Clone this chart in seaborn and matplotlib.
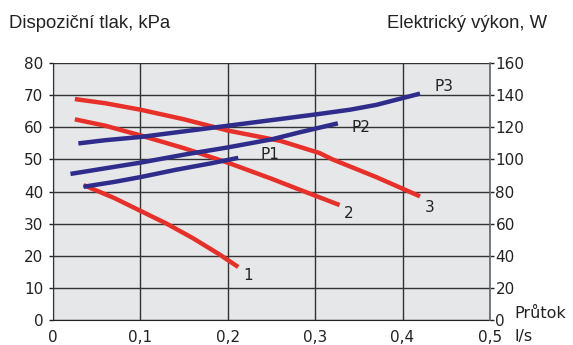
import numpy as np
import pandas as pd
import matplotlib
matplotlib.use('Agg')
import matplotlib.pyplot as plt
import seaborn as sns

# pressure curves (left axis, kPa)
flow_1 = [0.035, 0.07, 0.10, 0.13, 0.16, 0.19, 0.212]
press_1 = [42.0, 38.0, 34.0, 30.0, 25.5, 20.5, 16.5]
flow_2 = [0.025, 0.06, 0.10, 0.15, 0.20, 0.25, 0.283, 0.328]
press_2 = [62.5, 60.5, 57.5, 53.5, 49.0, 44.0, 40.5, 35.8]
flow_3 = [0.025, 0.06, 0.10, 0.15, 0.20, 0.26, 0.305, 0.32, 0.37, 0.42]
press_3 = [68.8, 67.5, 65.5, 62.5, 59.0, 55.8, 52.0, 50.0, 44.5, 38.5]

# power curves (right axis, W)
flow_p1 = [0.035, 0.07, 0.10, 0.14, 0.18, 0.212]
power_p1 = [83.0, 86.0, 89.0, 93.5, 97.5, 101.0]
flow_p2 = [0.02, 0.06, 0.10, 0.15, 0.20, 0.25, 0.283, 0.326]
power_p2 = [91.0, 94.5, 98.0, 103.0, 107.5, 112.5, 117.0, 122.5]
flow_p3 = [0.029, 0.06, 0.10, 0.15, 0.20, 0.25, 0.30, 0.34, 0.37, 0.395, 0.42]
power_p3 = [110.0, 112.0, 114.0, 117.5, 121.0, 124.5, 128.0, 131.0, 134.0, 137.5, 141.0]

x_ticks = [0, 0.1, 0.2, 0.3, 0.4, 0.5]
x_labels = ['0', '0,1', '0,2', '0,3', '0,4', '0,5']
left_ticks = [0, 10, 20, 30, 40, 50, 60, 70, 80]
right_ticks = [0, 20, 40, 60, 80, 100, 120, 140, 160]

red = '#e8302a'
blue = '#2f2c8c'
grid_col = '#333333'

sns.set_style('white')
plt.rcParams['font.family'] = ['DejaVu Sans']

fig = plt.figure(figsize=(5.73, 3.45), dpi=100)
ax = fig.add_axes([0.0925, 0.0725, 0.7625, 0.7445])
ax.set_facecolor('#e6e7e9')
ax2 = ax.twinx()

for fx, py in [(flow_1, press_1), (flow_2, press_2), (flow_3, press_3)]:
  sns.lineplot(x=fx, y=py, ax=ax, color=red, linewidth=3.2, solid_capstyle='butt', zorder=3)
for fx, pw in [(flow_p1, power_p1), (flow_p2, power_p2), (flow_p3, power_p3)]:
  sns.lineplot(x=fx, y=pw, ax=ax2, color=blue, linewidth=3.2, solid_capstyle='butt', zorder=3)

ax.set_xlim(0, 0.5)
ax.set_ylim(0, 80)
ax2.set_ylim(0, 160)
ax.set_xticks(x_ticks)
ax.set_xticklabels(x_labels)
ax.set_yticks(left_ticks)
ax2.set_yticks(right_ticks)
ax.grid(True, color=grid_col, linewidth=1.0)
ax.set_axisbelow(True)

for a in [ax, ax2]:
  for s in a.spines.values():
    s.set_visible(False)
ax.spines['left'].set_visible(True)
ax.spines['left'].set_color(grid_col)
ax.spines['bottom'].set_visible(True)
ax.spines['bottom'].set_color('#222222')
ax2.spines['right'].set_visible(True)
ax2.spines['right'].set_color('#666666')
ax2.spines['right'].set_linewidth(1.2)

ax.tick_params(axis='both', labelsize=11, length=3, width=1, color='#222222', pad=4, labelcolor='#222222')
ax2.tick_params(axis='y', labelsize=11, length=3, width=1, color='#222222', pad=1, labelcolor='#222222')
ax.set_xlabel('')
ax.set_ylabel('')
ax2.set_ylabel('')

# curve labels
lbl = dict(fontsize=11, color='#222222')
ax.text(0.218, 14, '1', ha='left', va='center', **lbl)
ax.text(0.333, 33.2, '2', ha='left', va='center', **lbl)
ax.text(0.425, 35, '3', ha='left', va='center', **lbl)
ax.text(0.237, 51.5, 'P1', ha='left', va='center', **lbl)
ax.text(0.342, 59.8, 'P2', ha='left', va='center', **lbl)
ax.text(0.437, 72.8, 'P3', ha='left', va='center', **lbl)

fig.text(9/573, 1 - 23/345, 'Dispoziční tlak, kPa', ha='left', va='center', fontsize=13.3, color='#222222', family='Liberation Sans')
fig.text(547/573, 1 - 23/345, 'Elektrický výkon, W', ha='right', va='center', fontsize=13.3, color='#222222', family='Liberation Sans')
fig.text(514/573, 1 - 313/345, 'Průtok', ha='left', va='center', fontsize=11.5, color='#222222')
fig.text(514/573, 1 - 337/345, 'l/s', ha='left', va='center', fontsize=11.5, color='#222222')

fig.savefig('out.png', dpi=100, facecolor='white')
